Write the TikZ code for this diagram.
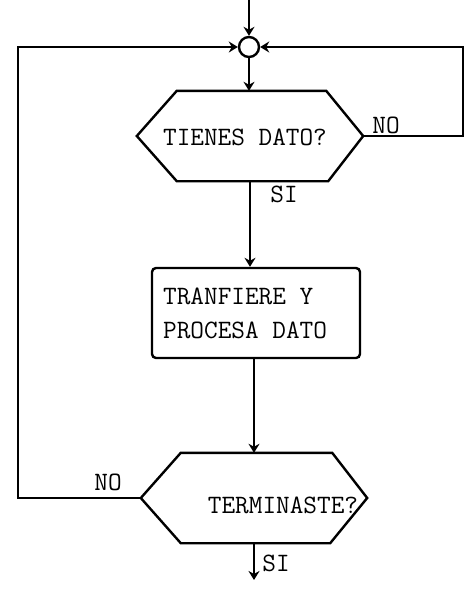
\documentclass[tikz,border=0pt]{standalone}
\usepackage{fontspec}
\newfontfamily\tw{Latin Modern Mono}
\usetikzlibrary{arrows.meta,calc}
\begin{document}
\begin{tikzpicture}[x=1pt,y=-1pt,
  line width=2.4pt,
  lbl/.style={font=\tw\fontsize{26.5}{30}\selectfont, inner sep=0pt},
  shell/.style={draw=none, inner sep=0pt},
  arr/.style={-{Stealth[length=9pt,width=11pt]}},
  procbox/.style={draw, rounded corners=4pt, minimum width=208pt, minimum height=90pt, inner sep=0pt}
]
\useasboundingbox (0,0) rectangle (471,590);
% join circle
\node[draw, circle, minimum size=20pt, inner sep=0pt] (c) at (249,47) {};
\coordinate (top) at (249,0);
% decision 1
\node[shell, minimum width=224pt, minimum height=88pt] (d1) at (250,136) {};
\draw (d1.west) -- ($(d1.north west)+(40,0)$) -- ($(d1.north east)+(-37,0)$) -- (d1.east)
  -- ($(d1.south east)+(-35,0)$) -- ($(d1.south west)+(40,0)$) -- cycle;
\node[lbl] (t1) at (245,137) {TIENES DATO?};
% process box
\node[procbox] (b) at (256,313) {};
\node[lbl, anchor=west, align=left] (t2) at (162,313) {TRANFIERE Y\\[4pt]PROCESA DATO};
% decision 2
\node[shell, minimum width=224pt, minimum height=88pt] (d2) at (254,498) {};
\draw (d2.west) -- ($(d2.north west)+(40,0)$) -- ($(d2.north east)+(-35,0)$) -- (d2.east)
  -- ($(d2.south east)+(-37,0)$) -- ($(d2.south west)+(40,0)$) -- cycle;
\node[lbl] (t3) at (283,505) {TERMINASTE?};
% connectors
\coordinate (lc) at (18,47);
\coordinate (rc) at (463,47);
\coordinate (endp) at (254,580);
\draw[arr] (top) -- (c.north);
\draw[arr] (c.south) -- (d1.north -| c.south);
\draw[arr] (d1.south) -- (d1.south |- b.north);
\draw[arr] (b.south -| d2.north) -- (d2.north);
\draw[arr] (d2.south) -- (endp);
\draw[arr] (d2.west) -| (lc) -- (c.west);
\draw[arr] (d1.east) -| (rc) -- (c.east);
% labels
\node[lbl] (no1) at (386,125) {NO};
\node[lbl] (si1) at (284,194) {SI};
\node[lbl] (no2) at (108,482) {NO};
\node[lbl] (si2) at (276,563) {SI};
\end{tikzpicture}
\end{document}
